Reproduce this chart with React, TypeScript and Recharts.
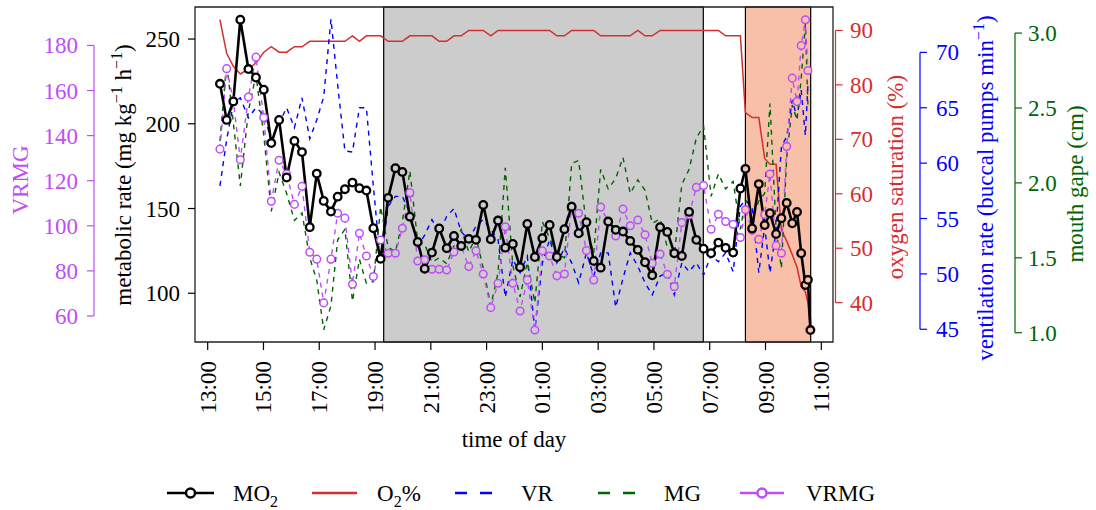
import React from 'react';
import { LineChart, Line, XAxis, YAxis, ReferenceArea } from 'recharts';

const FONT = '"Liberation Serif", "Times New Roman", serif';

// time in hours after 13:00
const timeHours = [
  0.44, 0.68, 0.92, 1.17, 1.46, 1.73, 2.01, 2.28, 2.56, 2.83,
  3.11, 3.38, 3.66, 3.91, 4.16, 4.42, 4.66, 4.92, 5.19, 5.44,
  5.69, 5.94, 6.2, 6.47, 6.73, 6.98, 7.25, 7.53, 7.78, 8.04,
  8.3, 8.57, 8.83, 9.09, 9.36, 9.62, 9.88, 10.15, 10.41, 10.67,
  10.94, 11.2, 11.46, 11.73, 12.0, 12.26, 12.52, 12.79, 13.05, 13.3,
  13.58, 13.84, 14.09, 14.36, 14.63, 14.89, 15.15, 15.42, 15.68, 15.94,
  16.22, 16.48, 16.73, 17.0, 17.26, 17.52, 17.78, 18.05, 18.31, 18.57,
  18.84, 19.1, 19.28, 19.52, 19.76, 19.97, 20.16, 20.38, 20.57, 20.76,
  20.96, 21.13, 21.28, 21.43, 21.52, 21.61,
];

const mo2 = [
  223.6, 202.3, 213.2, 261.4, 232.3, 227.3, 220.1, 188.6, 202.3, 168.3,
  189.9, 183.3, 139.0, 170.6, 154.5, 148.2, 157.0, 161.4, 165.3, 162.0,
  160.6, 138.4, 120.3, 156.3, 173.8, 171.6, 145.2, 130.3, 114.5, 124.0,
  138.2, 126.6, 133.8, 127.9, 132.1, 131.5, 152.1, 131.9, 142.9, 126.9,
  129.1, 115.4, 140.9, 121.4, 132.5, 140.3, 121.4, 137.8, 151.1, 135.4,
  141.9, 119.1, 115.1, 142.3, 137.4, 136.4, 130.9, 125.6, 118.3, 110.6,
  139.0, 136.2, 123.6, 122.0, 148.0, 131.5, 126.3, 123.6, 129.9, 126.8,
  124.0, 161.8, 173.4, 138.2, 164.4, 140.2, 147.2, 135.0, 144.3, 153.3,
  141.3, 148.0, 123.6, 104.9, 107.9, 78.3,
];

const o2Sat = [
  92.0, 85.8, 83.4, 82.0, 82.9, 84.0, 86.0, 87.0, 86.0, 86.0,
  87.0, 87.0, 88.0, 88.0, 88.0, 88.0, 88.0, 88.0, 89.0, 88.0,
  89.0, 89.0, 89.0, 88.0, 88.0, 88.0, 89.0, 89.0, 89.0, 89.0,
  88.0, 88.0, 89.0, 89.0, 90.0, 90.0, 90.0, 89.0, 90.0, 90.0,
  90.0, 90.0, 90.0, 90.0, 90.0, 90.0, 89.0, 89.0, 90.0, 90.0,
  90.0, 90.0, 89.0, 89.0, 89.0, 89.0, 89.0, 90.0, 89.0, 89.0,
  90.0, 90.0, 90.0, 90.0, 90.0, 90.0, 90.0, 90.0, 90.0, 89.0,
  89.0, 89.0, 74.9, 74.0, 74.0, 66.5, 65.4, 65.4, 53.4, 51.3,
  48.8, 46.5, 43.0, 42.0, 40.0, 35.0,
];

const vr = [
  57.95, 62.1, 65.4, 65.9, 64.1, 65.0, 64.4, 62.1, 63.6, 65.0,
  63.2, 65.9, 62.2, 63.9, 66.0, 73.0, 67.1, 61.1, 61.0, 65.0,
  65.0, 57.9, 51.0, 56.1, 57.0, 57.0, 55.5, 52.5, 53.5, 54.9,
  53.7, 55.2, 55.9, 53.8, 53.1, 54.3, 54.9, 54.0, 53.1, 47.9,
  51.3, 50.1, 51.6, 44.9, 51.0, 53.1, 51.0, 52.3, 51.0, 49.2,
  51.9, 49.8, 51.9, 51.9, 47.0, 49.6, 51.9, 50.7, 49.2, 48.1,
  49.8, 50.1, 48.1, 51.0, 50.2, 51.0, 49.9, 51.7, 51.1, 51.9,
  50.2, 56.1, 56.7, 55.9, 50.1, 54.3, 50.1, 54.0, 61.5, 62.4,
  65.7, 64.1, 66.6, 62.5, 67.0, null,
];

const mg = [
  2.28, 2.8, 2.4, 1.98, 2.48, 2.72, 2.32, 1.81, 2.07, 1.93,
  1.75, 1.8, 1.5, 1.35, 1.02, 1.18, 1.62, 1.69, 1.21, 1.49,
  1.33, 1.34, 1.84, 1.57, 1.54, 1.74, 2.08, 1.61, 1.59, 1.47,
  1.5, 1.46, 1.58, 1.69, 1.54, 1.64, 1.43, 1.18, 1.4, 2.1,
  1.45, 1.24, 1.47, 1.2, 1.74, 1.63, 1.53, 1.5, 2.13, 2.15,
  1.71, 1.53, 2.09, 1.96, 2.03, 2.17, 1.93, 2.02, 1.95, 1.73,
  1.76, 1.57, 1.52, 1.99, 2.09, 2.3, 2.38, 1.91, 2.06, 1.96,
  2.01, 1.69, 1.89, 1.75, 1.88, 1.93, 2.53, 1.69, 1.43, 2.17,
  2.52, 2.42, 2.7, 3.06, 2.52, null,
];

const vrmg = [
  134.0, 169.7, 155.5, 129.3, 157.1, 174.8, 148.0, 110.9, 129.1, 123.0,
  109.5, 117.5, 88.3, 85.2, 65.8, 85.2, 105.6, 103.4, 74.1, 96.7,
  86.6, 77.5, 93.7, 87.8, 87.8, 98.9, 114.7, 84.4, 84.9, 80.7,
  80.7, 80.4, 88.4, 91.1, 81.9, 88.9, 78.6, 63.7, 74.5, 99.6,
  74.5, 62.2, 76.0, 53.8, 88.9, 86.6, 77.8, 78.6, 108.8, 105.6,
  89.0, 76.0, 108.3, 101.9, 95.5, 107.4, 100.0, 102.6, 96.0, 83.4,
  87.5, 78.5, 73.0, 101.4, 104.8, 117.1, 117.9, 98.5, 105.1, 101.9,
  100.7, 94.8, 107.1, 98.0, 94.0, 105.0, 123.0, 91.2, 87.8, 135.2,
  165.5, 155.1, 180.0, 191.4, 168.9, null,
];

const xTicks = [0, 2, 4, 6, 8, 10, 12, 14, 16, 18, 20, 22];
const xTickLabels = ['13:00', '15:00', '17:00', '19:00', '21:00', '23:00', '01:00', '03:00', '05:00', '07:00', '09:00', '11:00'];
const mo2Ticks = [100, 150, 200, 250];
const vrmgTicks = [60, 80, 100, 120, 140, 160, 180];
const o2Ticks = [40, 50, 60, 70, 80, 90];
const vrTicks = [45, 50, 55, 60, 65, 70];
const mgTicks = [1.0, 1.5, 2.0, 2.5, 3.0];

const darkPeriod = [6.31, 17.77];
const hypoxiaPeriod = [19.28, 21.62];

const X_DOMAIN: [number, number] = [-0.455, 22.42];
const MO2_DOMAIN: [number, number] = [71.24, 268.9];
const VRMG_DOMAIN: [number, number] = [48.46, 197.05];
const O2_DOMAIN: [number, number] = [32.78, 94.3];
const VR_DOMAIN: [number, number] = [43.85, 74.1];
const MG_DOMAIN: [number, number] = [0.938, 3.174];

const data = timeHours.map((t, i) => ({
  t,
  mo2: mo2[i],
  o2: o2Sat[i],
  vr: vr[i],
  mg: mg[i],
  vrmg: vrmg[i],
}));

const C_BLACK = '#000000';
const C_RED = '#D32F2F';
const C_BLUE = '#0000FF';
const C_GREEN = '#006400';
const C_PURPLE = '#BF4DF7';
const C_GREY = '#CCCCCC';
const C_SALMON = '#F8C0A8';

const W = 1096;
const H = 510;
const PLOT_TOP = 7;
const PLOT_BOTTOM = 342;
const PLOT_H = PLOT_BOTTOM - PLOT_TOP;

function bgAt(t: number) {
  if (t >= darkPeriod[0] && t <= darkPeriod[1]) return C_GREY;
  if (t >= hypoxiaPeriod[0] && t <= hypoxiaPeriod[1]) return C_SALMON;
  return '#ffffff';
}

type AxisSpec = {
  side: 'left' | 'right';
  axisX: number;
  labelGap: number;
  color: string;
  ticks: number[];
  domain: [number, number];
  fmt: (v: number) => string;
  drawLine: boolean;
};

function makeTick(spec: AxisSpec) {
  return function Tick(props: any) {
    const { y, payload, index } = props;
    const dir = spec.side === 'left' ? -1 : 1;
    const span = spec.ticks[spec.ticks.length - 1] - spec.ticks[0];
    const linePx = (span * PLOT_H) / (spec.domain[1] - spec.domain[0]);
    return (
      <g>
        {spec.drawLine && index === 0 ? (
          <line x1={spec.axisX} x2={spec.axisX} y1={y} y2={y - linePx} stroke={spec.color} strokeWidth={1.2} />
        ) : null}
        <line x1={spec.axisX} x2={spec.axisX + dir * 7} y1={y} y2={y} stroke={spec.color} strokeWidth={1.2} />
        <text
          x={spec.axisX + dir * spec.labelGap}
          y={y + 8}
          textAnchor={spec.side === 'left' ? 'end' : 'start'}
          fill={spec.color}
          fontSize={23}
          fontFamily={FONT}
        >
          {spec.fmt(payload.value)}
        </text>
      </g>
    );
  };
}

const fmtInt = (v: number) => String(v);
const fmt1 = (v: number) => v.toFixed(1);

const Mo2Tick = makeTick({ side: 'left', axisX: 195, labelGap: 15, color: C_BLACK, ticks: mo2Ticks, domain: MO2_DOMAIN, fmt: fmtInt, drawLine: false });
const VrmgTick = makeTick({ side: 'left', axisX: 94, labelGap: 16, color: C_PURPLE, ticks: vrmgTicks, domain: VRMG_DOMAIN, fmt: fmtInt, drawLine: true });
const O2Tick = makeTick({ side: 'right', axisX: 835.5, labelGap: 14.5, color: C_RED, ticks: o2Ticks, domain: O2_DOMAIN, fmt: fmtInt, drawLine: true });
const VrTick = makeTick({ side: 'right', axisX: 920, labelGap: 16, color: C_BLUE, ticks: vrTicks, domain: VR_DOMAIN, fmt: fmtInt, drawLine: true });
const MgTick = makeTick({ side: 'right', axisX: 1015, labelGap: 13, color: C_GREEN, ticks: mgTicks, domain: MG_DOMAIN, fmt: fmt1, drawLine: true });

function XTick(props: any) {
  const { x, payload } = props;
  const idx = xTicks.indexOf(payload.value);
  const tx = x + 8;
  const ty = 361;
  return (
    <g>
      <line x1={x} x2={x} y1={PLOT_BOTTOM} y2={PLOT_BOTTOM + 8} stroke={C_BLACK} strokeWidth={1.2} />
      <text x={tx} y={ty} transform={`rotate(-90 ${tx} ${ty})`} textAnchor="end" fontSize={23} fontFamily={FONT} fill={C_BLACK}>
        {xTickLabels[idx]}
      </text>
    </g>
  );
}

function VTitle(props: any) {
  const { x, y, color, children } = props;
  return (
    <text x={x} y={y} transform={`rotate(-90 ${x} ${y})`} textAnchor="middle" fontSize={23} fontFamily={FONT} fill={color}>
      {children}
    </text>
  );
}

const SUP = { fontSize: 16 };

function Mo2Title() {
  return (
    <VTitle x={131} y={175} color={C_BLACK}>
      metabolic rate (mg kg<tspan dy={-9} {...SUP}>−1</tspan><tspan dy={9}> h</tspan><tspan dy={-9} {...SUP}>−1</tspan><tspan dy={9}>)</tspan>
    </VTitle>
  );
}
function VrmgTitle() {
  return <VTitle x={28} y={180} color={C_PURPLE}>VRMG</VTitle>;
}
function O2Title() {
  return <VTitle x={903} y={177} color={C_RED}>oxygen saturation (%)</VTitle>;
}
function VrTitle() {
  return (
    <VTitle x={993} y={188} color={C_BLUE}>
      ventilation rate (buccal pumps min<tspan dy={-9} {...SUP}>−1</tspan><tspan dy={9}>)</tspan>
    </VTitle>
  );
}
function MgTitle() {
  return <VTitle x={1083} y={184} color={C_GREEN}>mouth gape (cm)</VTitle>;
}
function XTitle() {
  return (
    <text x={514} y={447} textAnchor="middle" fontSize={23} fontFamily={FONT} fill={C_BLACK}>
      time of day
    </text>
  );
}

function makeDot(color: string, r: number, sw: number) {
  return (p: any) => {
    if (p.cy == null || p.value == null) return <g key={p.key ?? p.index} />;
    return <circle key={p.key ?? p.index} cx={p.cx} cy={p.cy} r={r} fill={bgAt(p.payload.t)} stroke={color} strokeWidth={sw} />;
  };
}

function Legend() {
  const y = 493;
  const ty = y + 8;
  const fs = 23;
  return (
    <svg width={W} height={40} style={{ position: 'absolute', left: 0, top: 473 }} viewBox={`0 473 ${W} 40`}>
      <line x1={167} x2={214} y1={y} y2={y} stroke={C_BLACK} strokeWidth={2.7} />
      <circle cx={190.5} cy={y} r={4.5} fill="#fff" stroke={C_BLACK} strokeWidth={2.5} />
      <text x={233} y={ty} fontSize={fs} fontFamily={FONT} fill={C_BLACK}>MO<tspan dy={6} fontSize={16}>2</tspan></text>

      <line x1={312} x2={357} y1={y} y2={y} stroke={C_RED} strokeWidth={2.7} />
      <text x={377} y={ty} fontSize={fs} fontFamily={FONT} fill={C_BLACK}>O<tspan dy={6} fontSize={16}>2</tspan><tspan dy={-6}>%</tspan></text>

      <line x1={455} x2={493} y1={y} y2={y} stroke={C_BLUE} strokeWidth={2.7} strokeDasharray="12 13" />
      <text x={521} y={ty} fontSize={fs} fontFamily={FONT} fill={C_BLACK}>VR</text>

      <line x1={598} x2={636} y1={y} y2={y} stroke={C_GREEN} strokeWidth={2.7} strokeDasharray="12 13" />
      <text x={664} y={ty} fontSize={fs} fontFamily={FONT} fill={C_BLACK}>MG</text>

      <line x1={740} x2={784} y1={y} y2={y} stroke={C_PURPLE} strokeWidth={2.7} />
      <circle cx={762} cy={y} r={4.5} fill="#fff" stroke={C_PURPLE} strokeWidth={2.5} />
      <text x={806} y={ty} fontSize={fs} fontFamily={FONT} fill={C_BLACK}>VRMG</text>
    </svg>
  );
}

export default function App() {
  return (
    <div style={{ position: 'absolute', left: 0, top: 0, width: W, height: H, background: '#fff' }}>
      <LineChart width={W} height={H} data={data} margin={{ top: PLOT_TOP, right: 0, bottom: 58, left: 0 }}>
        <XAxis
          dataKey="t"
          type="number"
          domain={X_DOMAIN}
          ticks={xTicks}
          interval={0}
          allowDataOverflow
          axisLine={false}
          tickLine={false}
          tick={XTick}
          height={110}
          label={<XTitle />}
        />
        <YAxis yAxisId="mo2" orientation="left" type="number" domain={MO2_DOMAIN} ticks={mo2Ticks} interval={0} allowDataOverflow width={101} axisLine={false} tickLine={false} tick={Mo2Tick} label={<Mo2Title />} />
        <YAxis yAxisId="vrmg" orientation="left" type="number" domain={VRMG_DOMAIN} ticks={vrmgTicks} interval={0} allowDataOverflow width={94} axisLine={false} tickLine={false} tick={VrmgTick} label={<VrmgTitle />} />
        <YAxis yAxisId="o2" orientation="right" type="number" domain={O2_DOMAIN} ticks={o2Ticks} interval={0} allowDataOverflow width={87} axisLine={false} tickLine={false} tick={O2Tick} label={<O2Title />} />
        <YAxis yAxisId="vr" orientation="right" type="number" domain={VR_DOMAIN} ticks={vrTicks} interval={0} allowDataOverflow width={95} axisLine={false} tickLine={false} tick={VrTick} label={<VrTitle />} />
        <YAxis yAxisId="mg" orientation="right" type="number" domain={MG_DOMAIN} ticks={mgTicks} interval={0} allowDataOverflow width={81} axisLine={false} tickLine={false} tick={MgTick} label={<MgTitle />} />

        <ReferenceArea yAxisId="mo2" x1={darkPeriod[0]} x2={darkPeriod[1]} y1={MO2_DOMAIN[0]} y2={MO2_DOMAIN[1]} fill={C_GREY} fillOpacity={1} stroke={C_BLACK} strokeWidth={1.2} ifOverflow="visible" zIndex={-10} />
        <ReferenceArea yAxisId="mo2" x1={hypoxiaPeriod[0]} x2={hypoxiaPeriod[1]} y1={MO2_DOMAIN[0]} y2={MO2_DOMAIN[1]} fill={C_SALMON} fillOpacity={1} stroke={C_BLACK} strokeWidth={1.2} ifOverflow="visible" zIndex={-10} />

        <Line yAxisId="o2" dataKey="o2" type="linear" stroke={C_RED} strokeWidth={1.5} dot={false} activeDot={false} isAnimationActive={false} />
        <Line yAxisId="vr" dataKey="vr" type="linear" stroke={C_BLUE} strokeWidth={1.4} strokeDasharray="5 5" dot={false} activeDot={false} isAnimationActive={false} />
        <Line yAxisId="mg" dataKey="mg" type="linear" stroke={C_GREEN} strokeWidth={1.4} strokeDasharray="5 5" dot={false} activeDot={false} isAnimationActive={false} />
        <Line yAxisId="vrmg" dataKey="vrmg" type="linear" stroke={C_PURPLE} strokeWidth={1.4} strokeDasharray="5 5" dot={makeDot(C_PURPLE, 3.8, 1.5)} activeDot={false} isAnimationActive={false} />
        <Line yAxisId="mo2" dataKey="mo2" type="linear" stroke={C_BLACK} strokeWidth={2.6} dot={makeDot(C_BLACK, 3.8, 2.3)} activeDot={false} isAnimationActive={false} />

        <ReferenceArea yAxisId="mo2" x1={X_DOMAIN[0]} x2={X_DOMAIN[1]} y1={MO2_DOMAIN[0]} y2={MO2_DOMAIN[1]} fill="none" stroke="#222" strokeWidth={1.3} ifOverflow="visible" />
      </LineChart>
      <Legend />
    </div>
  );
}
